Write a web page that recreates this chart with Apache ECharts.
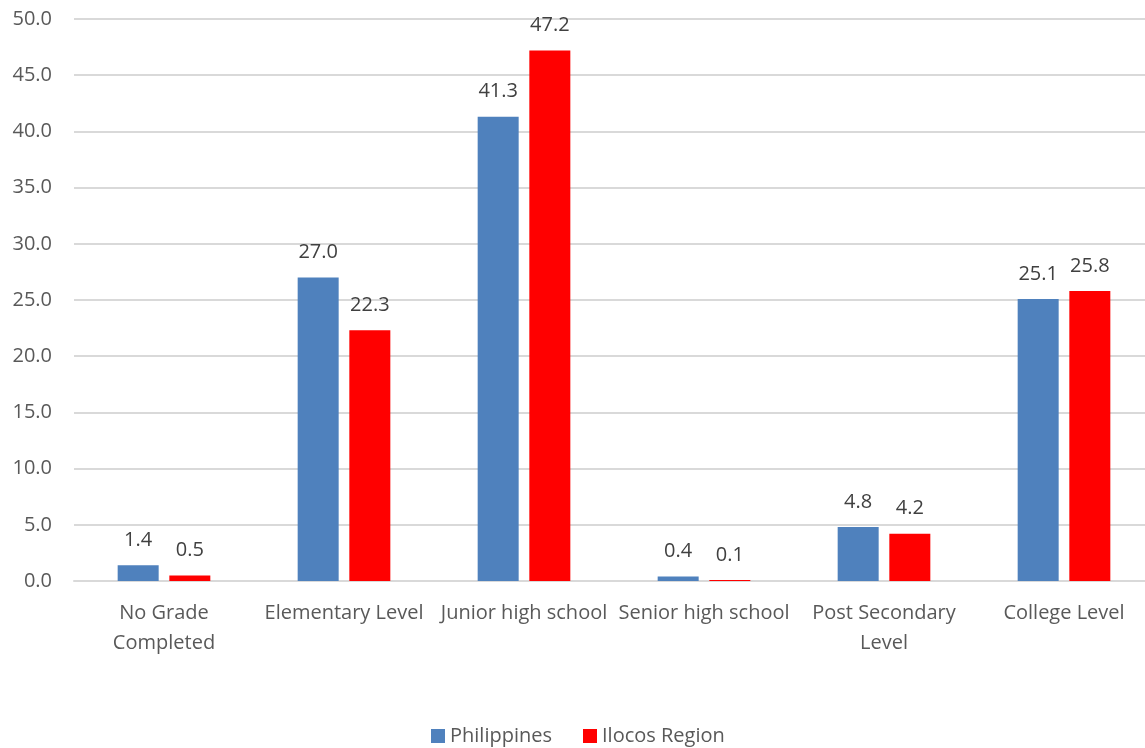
<!DOCTYPE html>
<html><head><meta charset="utf-8">
<script src="https://cdn.jsdelivr.net/npm/echarts@6/dist/echarts.min.js"></script>
<style>html,body{margin:0;padding:0;background:#fff}#c{width:1145px;height:748px}</style>
</head><body><div id="c"></div>
<script>
var categories = ['No Grade\nCompleted', 'Elementary Level', 'Junior high school', 'Senior high school', 'Post Secondary\nLevel', 'College Level'];
var philippines = [1.4, 27.0, 41.3, 0.4, 4.8, 25.1];
var ilocos = [0.5, 22.3, 47.2, 0.1, 4.2, 25.8];
var seriesNames = ['Philippines', 'Ilocos Region'];
var FONT = 'Open Sans';
var chart = echarts.init(document.getElementById('c'));
var lbl = {show: true, position: 'top', distance: 15, color: '#404040', fontFamily: FONT, fontSize: 20,
  formatter: function (p) { return p.value.toFixed(1); }};
chart.setOption({
  animation: false,
  textStyle: {fontFamily: FONT},
  grid: {left: 74, width: 1080, top: 19, bottom: 167, outerBoundsMode: 'none', containLabel: false},
  legend: {bottom: -3, left: 426, itemWidth: 14, itemHeight: 14, itemGap: 31,
    textStyle: {color: '#595959', fontSize: 20, fontFamily: FONT}, icon: 'rect', data: seriesNames},
  xAxis: {type: 'category', data: categories,
    axisLine: {show: true, lineStyle: {color: '#d9d9d9', width: 2}}, axisTick: {show: false},
    axisLabel: {color: '#595959', fontSize: 20, fontFamily: FONT, margin: 17, lineHeight: 30, interval: 0}},
  yAxis: {type: 'value', min: 0, max: 50, interval: 5,
    axisLabel: {color: '#595959', fontSize: 20, fontFamily: FONT, margin: 22, formatter: function (v) { return v.toFixed(1); }},
    splitLine: {lineStyle: {color: '#d9d9d9', width: 2}}, axisLine: {show: false}, axisTick: {show: false}},
  series: [
    {name: seriesNames[0], type: 'bar', data: philippines, barWidth: 41, barGap: '26%', itemStyle: {color: '#4f81bd'}, label: lbl},
    {name: seriesNames[1], type: 'bar', data: ilocos, barWidth: 41, itemStyle: {color: '#ff0000'}, label: lbl}
  ]
});
</script></body></html>
